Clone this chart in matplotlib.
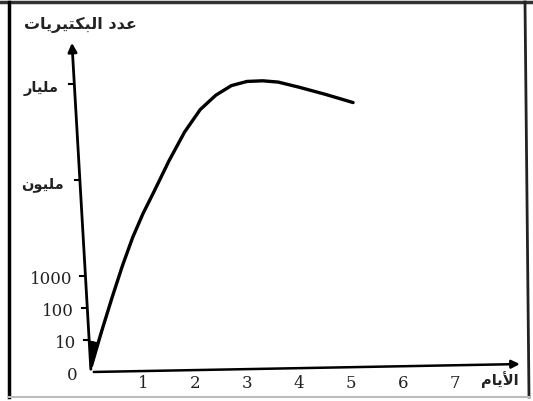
import numpy as np
import matplotlib
matplotlib.use("Agg")
import matplotlib.pyplot as plt
from matplotlib.lines import Line2D

# growth curve (x: days, y: log10 of bacteria count)
days = [0.01, 0.2, 0.4, 0.6, 0.8, 1.0, 1.2, 1.5, 1.8, 2.1, 2.4, 2.7, 3.0,
        3.3, 3.6, 4.0, 4.5, 5.04]
levels = [0.2, 1.25, 2.3, 3.3, 4.2, 4.95, 5.6, 6.6, 7.5, 8.2, 8.65, 8.95, 9.08,
          9.1, 9.06, 8.9, 8.68, 8.42]

# short lag phase near the origin
lag_days = [0.0, -0.02, 0.12]
lag_levels = [0.1, 0.95, 0.9]

# y labels: 0, 10, 100, 1000, million, billion (log10 positions)
y_levels = [0, 1, 2, 3, 6, 9]
y_labels = ["0", "10", "100", "1000",
            "\uFEE5\uFEEE\uFEF4\uFEE0\uFEE3",       # مليون
            "\uFEAD\uFE8E\uFEF4\uFEE0\uFEE3"]       # مليار
x_ticks = [1, 2, 3, 4, 5, 6, 7]

title_text = ("\uFE95\uFE8E\uFEF3\uFEAE\uFEF4\uFE98\uFEDC\uFE92\uFEDF\uFE8D"
              " \uFEA9\uFEAA\uFECB")                  # عدد البكتيريات
x_title = "\uFEE1\uFE8E\uFEF3\uFEF7\uFE8D"              # الأيام

fig = plt.figure(figsize=(5.33, 4.01), dpi=100)
ax = fig.add_axes([0, 0, 1, 1])
ax.set_xlim(-1.75, 8.5)
ax.set_ylim(-0.906, 11.625)
ax.axis("off")

# slanted y axis like the scan
y_top = (-0.37, 10.375)


def axis_x(lv):
    return y_top[0] * lv / y_top[1]


ax.annotate("", xy=y_top, xytext=(0, 0),
            arrowprops=dict(arrowstyle="-|>", color="black", lw=2.0, mutation_scale=13))
ax.annotate("", xy=(8.3, 0.25), xytext=(0, 0),
            arrowprops=dict(arrowstyle="-|>", color="black", lw=1.8, mutation_scale=12))

# small ticks on the y axis
for lv in y_levels[1:]:
    ax.plot([axis_x(lv) - 0.1, axis_x(lv)], [lv, lv], color="black", lw=1.5)

ax.plot(days, levels, color="black", lw=2.4, solid_capstyle="round",
        solid_joinstyle="round")
ax.fill(lag_days, lag_levels, color="black")
ax.plot(lag_days, lag_levels, color="black", lw=1.5)

for lv, lab in zip(y_levels, y_labels):
    if lv < 4:
        ax.text(axis_x(lv) - 0.25, lv - 0.1, lab, ha="right", va="center",
                family="DejaVu Serif", fontsize=12, color="#222222")
    else:
        ax.text(axis_x(lv) - 0.3, lv - 0.15, lab, ha="right", va="center",
                family="DejaVu Sans", fontsize=10.5, fontweight="bold", color="#222222")

for d in x_ticks:
    ax.text(d, -0.36, str(d), ha="center", va="center",
            family="DejaVu Serif", fontsize=12, color="#222222")

ax.text(7.87, -0.22, x_title, ha="center", va="center",
        family="DejaVu Sans", fontsize=10.5, fontweight="bold", color="#222222")
ax.text(-0.21, 10.84, title_text, ha="center", va="center",
        family="DejaVu Sans", fontsize=11.5, fontweight="bold", color="#222222")

# scan frame
W, H = 533, 401
fig.add_artist(Line2D([0, 1], [1 - 2 / H, 1 - 2 / H], color="#333333", lw=2.5))
fig.add_artist(Line2D([9 / W, 9 / W], [1 - 2 / H, 1 - 397 / H], color="black", lw=2.5))
fig.add_artist(Line2D([525 / W, 529 / W], [1 - 2 / H, 1 - 397 / H], color="#222222", lw=2.0))
fig.add_artist(Line2D([9 / W, 529 / W], [1 - 397 / H, 1 - 397 / H], color="#bbbbbb", lw=1.5))

fig.savefig("out.png", dpi=100)
